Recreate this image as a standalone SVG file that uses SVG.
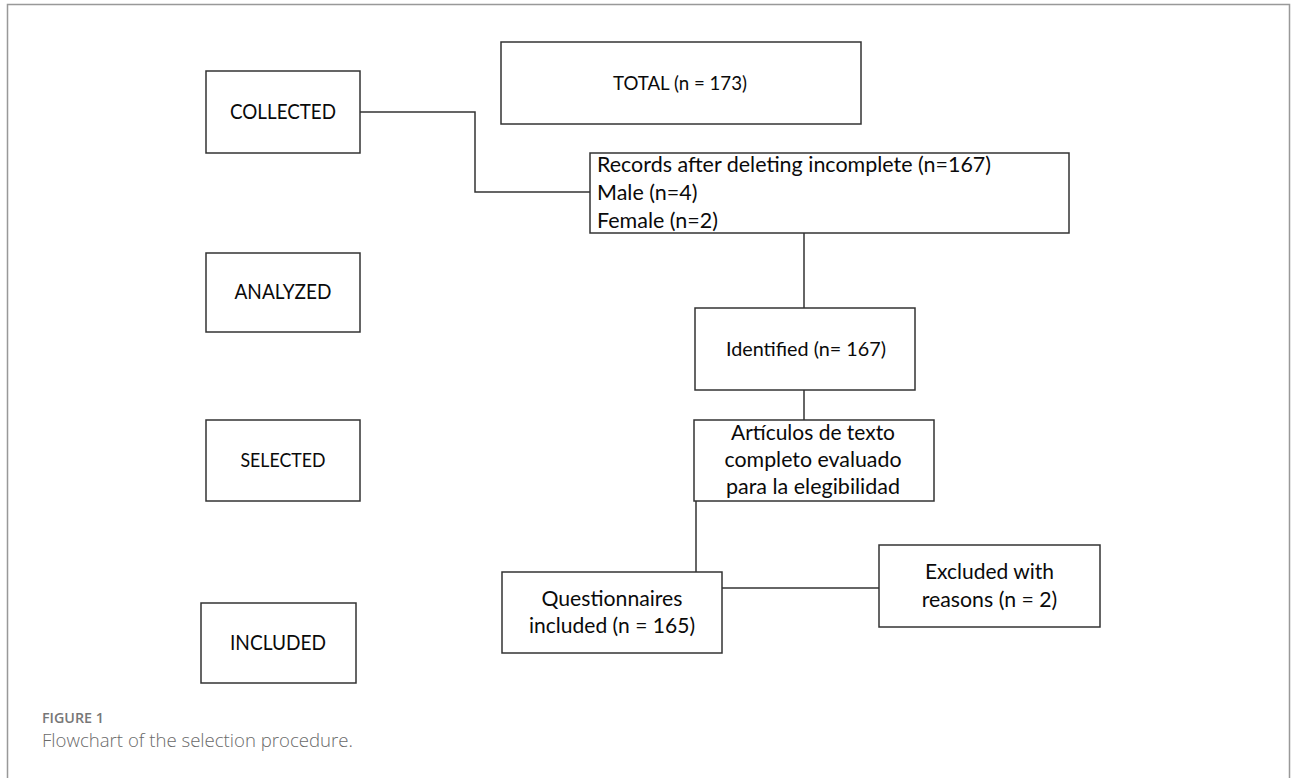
<svg xmlns="http://www.w3.org/2000/svg" width="1293" height="778" viewBox="0 0 1293 778">
<style>
.box{fill:#fff;stroke:#333;stroke-width:1.5}
.ln{fill:none;stroke:#333;stroke-width:1.5}
.t{font-family:Lato,"Liberation Sans",sans-serif;font-size:21px;fill:#0a0a0a}
.s{font-size:19.7px}
.c{text-anchor:middle}
.cap1{font-family:"Open Sans","Liberation Sans",sans-serif;font-size:14.5px;font-weight:600;fill:#777}
.cap2{font-family:"Open Sans","Liberation Sans",sans-serif;font-size:19px;font-weight:300;fill:#6a6a6a}
</style>
<rect width="1293" height="778" fill="#fff"/>
<path d="M7.5,778 V4.5 H1289.5 V778" fill="none" stroke="#999" stroke-width="1.5"/>

<g id="connectors">
<path class="ln" d="M360,112 H475 V192 H590"/>
<path class="ln" d="M804,233 V308"/>
<path class="ln" d="M804,390 V420"/>
<path class="ln" d="M696,501 V572"/>
<path class="ln" d="M722,588 H879"/>
</g>

<g id="collected">
<rect class="box" x="206" y="71" width="154" height="82"/>
<text class="t c" x="283" y="119" textLength="106" lengthAdjust="spacingAndGlyphs">COLLECTED</text>
</g>
<g id="analyzed">
<rect class="box" x="206" y="253" width="154" height="79"/>
<text class="t c" x="283" y="299" textLength="97" lengthAdjust="spacingAndGlyphs">ANALYZED</text>
</g>
<g id="selected">
<rect class="box" x="206" y="420" width="154" height="81"/>
<text class="t s c" x="283" y="467" textLength="85" lengthAdjust="spacingAndGlyphs">SELECTED</text>
</g>
<g id="included">
<rect class="box" x="201" y="603" width="155" height="80"/>
<text class="t c" x="278" y="650" textLength="96" lengthAdjust="spacingAndGlyphs">INCLUDED</text>
</g>

<g id="total">
<rect class="box" x="501" y="42" width="360" height="82"/>
<text class="t s c" x="680" y="90" textLength="134" lengthAdjust="spacingAndGlyphs">TOTAL (n = 173)</text>
</g>
<g id="records">
<rect class="box" x="590" y="153" width="479" height="80"/>
<text class="t" x="597" y="172" textLength="394" lengthAdjust="spacingAndGlyphs">Records after deleting incomplete (n=167)</text>
<text class="t" x="597" y="200" textLength="100.5" lengthAdjust="spacingAndGlyphs">Male (n=4)</text>
<text class="t" x="597" y="228" textLength="121" lengthAdjust="spacingAndGlyphs">Female (n=2)</text>
</g>
<g id="identified">
<rect class="box" x="695" y="308" width="220" height="82"/>
<text class="t s c" x="806" y="356" textLength="160" lengthAdjust="spacingAndGlyphs">Identified (n= 167)</text>
</g>
<g id="articulos">
<rect class="box" x="694" y="420" width="240" height="81"/>
<text class="t c" x="813" y="440" textLength="164" lengthAdjust="spacingAndGlyphs">Artículos de texto</text>
<text class="t c" x="813" y="467" textLength="177" lengthAdjust="spacingAndGlyphs">completo evaluado</text>
<text class="t c" x="813" y="494" textLength="174" lengthAdjust="spacingAndGlyphs">para la elegibilidad</text>
</g>
<g id="questionnaires">
<rect class="box" x="502" y="572" width="220" height="81"/>
<text class="t c" x="612" y="606" textLength="141" lengthAdjust="spacingAndGlyphs">Questionnaires</text>
<text class="t c" x="612" y="633" textLength="166" lengthAdjust="spacingAndGlyphs">included (n = 165)</text>
</g>
<g id="excluded">
<rect class="box" x="879" y="545" width="221" height="82"/>
<text class="t c" x="989.5" y="579" textLength="129" lengthAdjust="spacingAndGlyphs">Excluded with</text>
<text class="t c" x="989.5" y="607" textLength="135.5" lengthAdjust="spacingAndGlyphs">reasons (n = 2)</text>
</g>

<text class="cap1" x="42" y="723" textLength="62" lengthAdjust="spacingAndGlyphs">FIGURE 1</text>
<text class="cap2" x="42" y="747" textLength="311" lengthAdjust="spacingAndGlyphs">Flowchart of the selection procedure.</text>
</svg>
